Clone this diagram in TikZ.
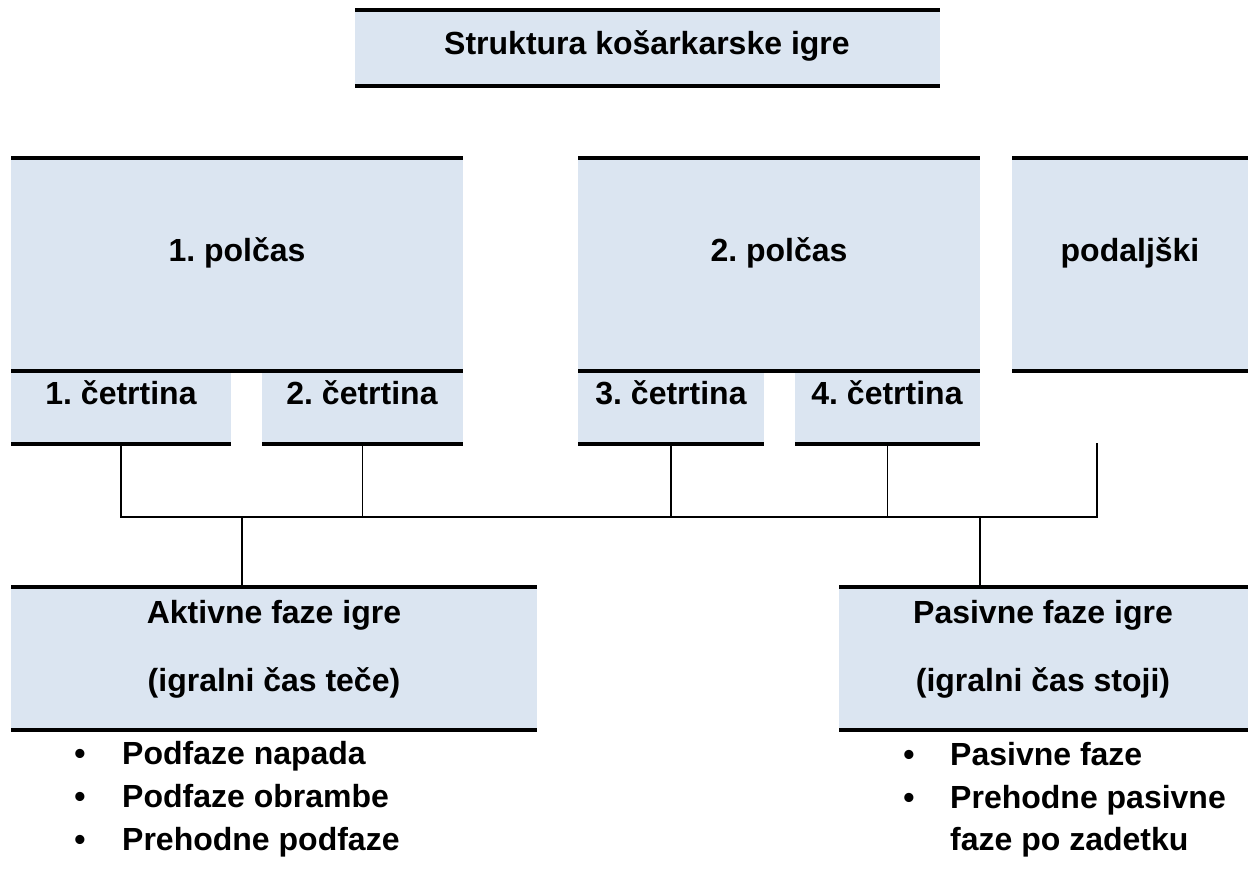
\documentclass[tikz,border=0pt]{standalone}
\usepackage{fontspec}
\setmainfont{Liberation Sans}
\frenchspacing
\definecolor{boxblue}{HTML}{DBE5F1}
\tikzset{
  box/.style={fill=boxblue, inner sep=0pt, outer sep=0pt, anchor=north west},
  rule/.style={line width=3.7pt},
  conn/.style={line width=1.6pt, line join=miter},
  txt/.style={font=\fontsize{32}{38}\selectfont\bfseries, anchor=base, inner sep=0pt},
  ltxt/.style={txt, anchor=base west},
}
\begin{document}
\begin{tikzpicture}[x=1pt,y=-1pt]
\useasboundingbox (0,0) rectangle (1248,888);
% boxes
\node[box, minimum width=585, minimum height=76] (title) at (355,10) {};
\node[box, minimum width=452, minimum height=213] (p1) at (11,158) {};
\node[box, minimum width=402, minimum height=213] (p2) at (578,158) {};
\node[box, minimum width=236, minimum height=213] (pod) at (1012,158) {};
\node[box, minimum width=220, minimum height=73] (q1) at (11,371) {};
\node[box, minimum width=201, minimum height=73] (q2) at (262,371) {};
\node[box, minimum width=186, minimum height=73] (q3) at (578,371) {};
\node[box, minimum width=185, minimum height=73] (q4) at (795,371) {};
\node[box, minimum width=526, minimum height=143] (akt) at (11,587) {};
\node[box, minimum width=409, minimum height=143] (pas) at (839,587) {};
% rules
\foreach \n in {title,p1,p2,pod,akt,pas}{
  \draw[rule] (\n.north west) -- (\n.north east);
  \draw[rule] (\n.south west) -- (\n.south east);
}
\foreach \n in {q1,q2,q3,q4}{
  \draw[rule] (\n.south west) -- (\n.south east);
}
% texts
\node[txt] (ttitle) at (647,55) {Struktura košarkarske igre};
\node[txt] (tp1) at (237,261) {1. polčas};
\node[txt] (tp2) at (779,261) {2. polčas};
\node[txt] (tpod) at (1130,261) {podaljški};
\node[txt] (tq1) at (121,404) {1. četrtina};
\node[txt] (tq2) at (362,404) {2. četrtina};
\node[txt] (tq3) at (671,404) {3. četrtina};
\node[txt] (tq4) at (887,404) {4. četrtina};
\node[txt] (takt1) at (274,623) {Aktivne faze igre};
\node[txt] (takt2) at (274,691) {(igralni čas teče)};
\node[txt] (tpas1) at (1043,623) {Pasivne faze igre};
\node[txt] (tpas2) at (1043,691) {(igralni čas stoji)};
% connectors
\coordinate (jL) at (242,517);
\coordinate (jR) at (980,517);
\coordinate (podEnd) at (1097,443);
\draw[conn] (q1.south) -- (q1.south |- jL) -- (podEnd |- jL) -- (podEnd);
\draw[conn] (q2.south) -- (q2.south |- jL);
\draw[conn] (q3.south) -- (q3.south |- jL);
\draw[conn] (q4.south) -- (q4.south |- jL);
\draw[conn] (jL) -- (akt.north -| jL);
\draw[conn] (jR) -- (pas.north -| jR);
% lists
\node[txt] (bl1) at (80,764) {•};
\node[txt] (bl2) at (80,807) {•};
\node[txt] (bl3) at (80,850) {•};
\node[ltxt] (l1) at (122,764) {Podfaze napada};
\node[ltxt] (l2) at (122,807) {Podfaze obrambe};
\node[ltxt] (l3) at (122,850) {Prehodne podfaze};
\node[txt] (br1) at (909,765) {•};
\node[txt] (br2) at (909,808) {•};
\node[ltxt] (r1) at (950,765) {Pasivne faze};
\node[ltxt] (r2) at (950,808) {Prehodne pasivne};
\node[ltxt] (r3) at (950,850) {faze po zadetku};
\end{tikzpicture}
\end{document}
